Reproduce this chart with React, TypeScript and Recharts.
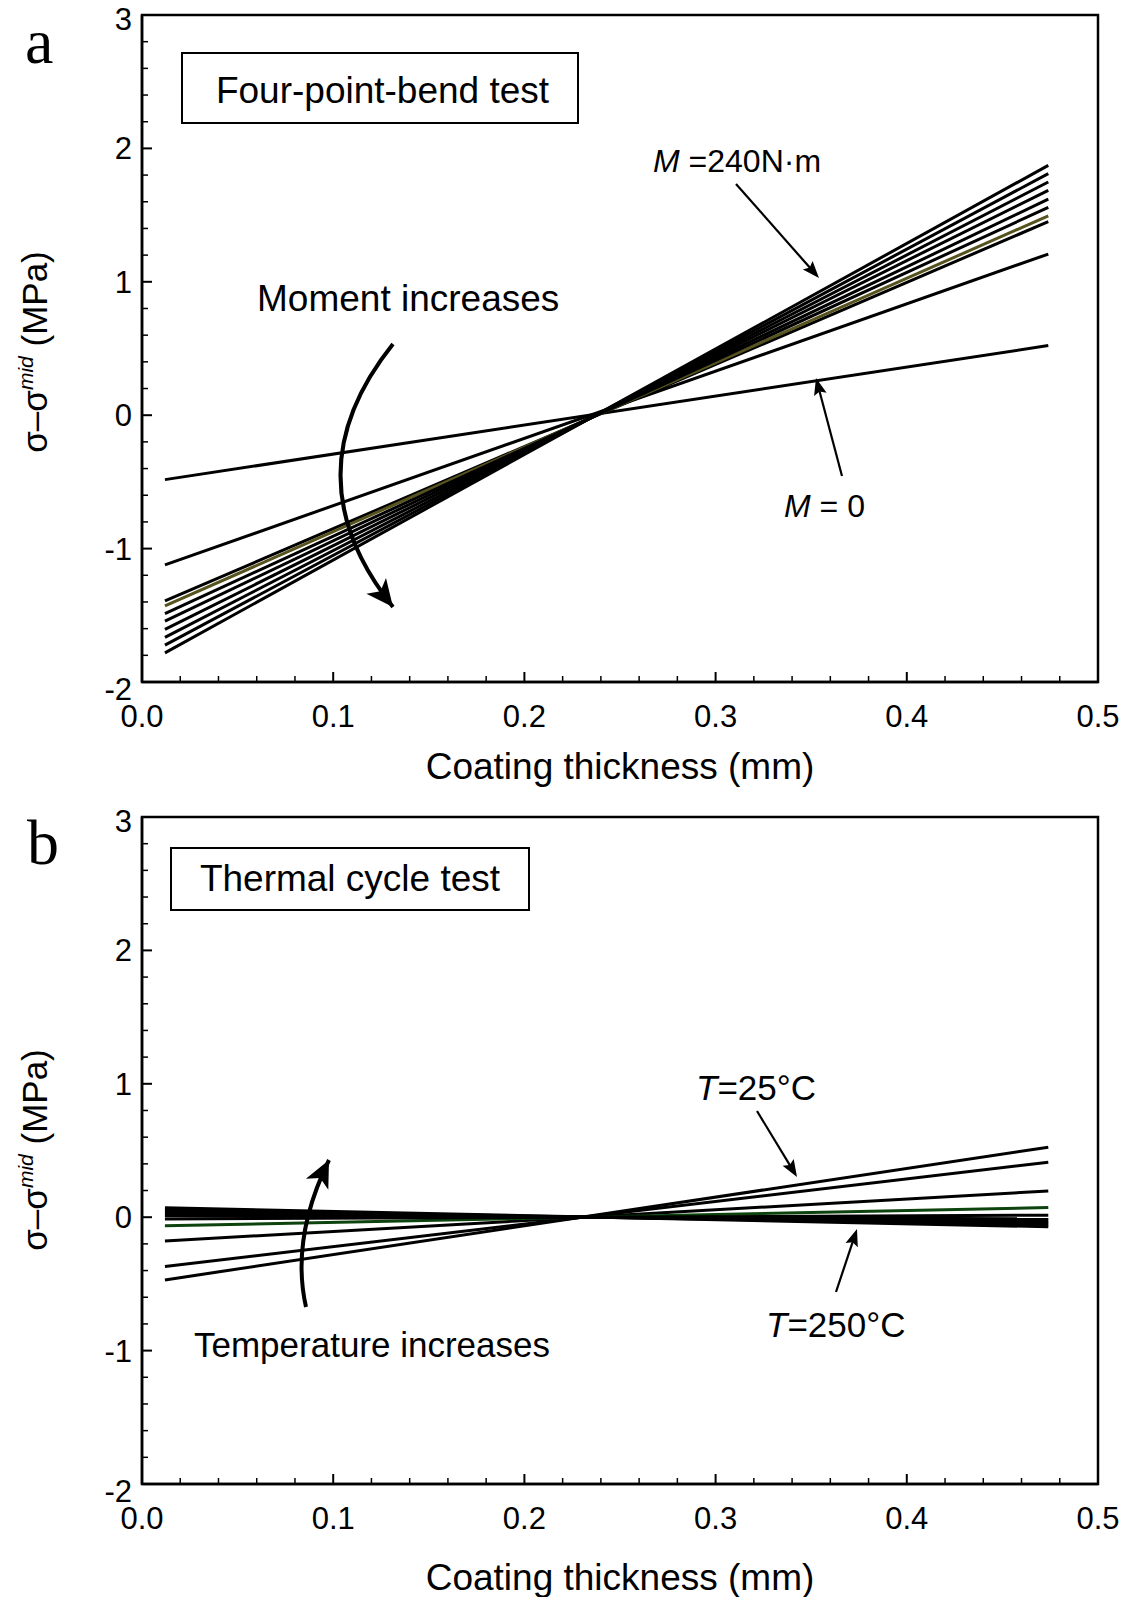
import React from 'react';
import { LineChart, Line, XAxis, YAxis, ReferenceArea } from 'recharts';

const FONT = '"Liberation Sans", Arial, Helvetica, sans-serif';
const SERIF = '"Liberation Serif", "Times New Roman", serif';

// Coating thickness (mm) at the two ends of every line
const thicknessEnds = [0.012, 0.474];

// Panel a: four-point-bend test, sigma - sigma_mid (MPa), M = 0 ... 240 N·m
const momentLeft = [-0.483, -1.122, -1.392, -1.43, -1.487, -1.544, -1.605, -1.665, -1.724, -1.782];
const momentRight = [0.522, 1.208, 1.451, 1.495, 1.558, 1.619, 1.686, 1.748, 1.811, 1.873];
const momentColors = ['#000', '#000', '#000', '#57531e', '#000', '#000', '#000', '#000', '#000', '#000'];

// Panel b: thermal cycle test, T = 25 ... 250 °C
const tempLeft = [-0.47, -0.37, -0.178, -0.065, -0.013, 0.01, 0.025, 0.04, 0.055, 0.07];
const tempRight = [0.525, 0.4125, 0.197, 0.072, 0.015, -0.012, -0.028, -0.043, -0.058, -0.072];
const tempColors = ['#000', '#000', '#000', '#0d430d', '#000', '#000', '#000', '#000', '#000', '#000'];

const xTicks = [0, 0.02, 0.04, 0.06, 0.08, 0.1, 0.12, 0.14, 0.16, 0.18, 0.2, 0.22, 0.24, 0.26, 0.28, 0.3, 0.32, 0.34, 0.36, 0.38, 0.4, 0.42, 0.44, 0.46, 0.48, 0.5];
const xTickLabels = ['0.0', '0.1', '0.2', '0.3', '0.4', '0.5'];
const yTicks = [-2, -1.8, -1.6, -1.4, -1.2, -1, -0.8, -0.6, -0.4, -0.2, 0, 0.2, 0.4, 0.6, 0.8, 1, 1.2, 1.4, 1.6, 1.8, 2, 2.2, 2.4, 2.6, 2.8, 3];
const yTickLabels = ['-2', '-1', '0', '1', '2', '3'];

function buildRows(left: number[], right: number[]) {
  return thicknessEnds.map((x, i) => {
    const row: Record<string, number> = { x };
    left.forEach((_, k) => {
      row['s' + k] = i === 0 ? left[k] : right[k];
    });
    return row;
  });
}

const momentData = buildRows(momentLeft, momentRight);
const tempData = buildRows(tempLeft, tempRight);

const TICK_FONT = 31;

const XTick = (props: any) => {
  const { x, y, payload } = props;
  const v = payload.value as number;
  const major = Math.abs(v * 10 - Math.round(v * 10)) < 1e-6;
  return (
    <g>
      <line x1={x} x2={x} y1={y} y2={y - (major ? 10 : 6)} stroke="#000" strokeWidth={major ? 2 : 1.5} />
      {major && (
        <text x={x} y={y + 45} textAnchor="middle" fontSize={TICK_FONT} fontFamily={FONT} fill="#000">
          {xTickLabels[Math.round(v * 10)]}
        </text>
      )}
    </g>
  );
};

const YTick = (props: any) => {
  const { x, y, payload } = props;
  const v = payload.value as number;
  const major = Math.abs(v - Math.round(v)) < 1e-6;
  const shift = Math.abs(v - 3) < 1e-6 ? 4 : Math.abs(v + 2) < 1e-6 ? 7 : 0;
  return (
    <g>
      <line x1={x} x2={x + (major ? 10 : 6)} y1={y} y2={y} stroke="#000" strokeWidth={major ? 2 : 1.5} />
      {major && (
        <text x={x - 10} y={y + 11 + shift} textAnchor="end" fontSize={TICK_FONT} fontFamily={FONT} fill="#000">
          {yTickLabels[Math.round(v) + 2]}
        </text>
      )}
    </g>
  );
};

function Panel(props: { data: any[]; colors: string[]; top: number; height: number; mTop: number; mBottom: number }) {
  const { data, colors, top, height, mTop, mBottom } = props;
  return (
    <div style={{ position: 'absolute', left: 0, top, width: 1134, height }}>
      <LineChart width={1134} height={height} data={data} margin={{ top: mTop, right: 36, left: 0, bottom: mBottom }}>
        <XAxis
          type="number"
          dataKey="x"
          domain={[0, 0.5]}
          ticks={xTicks}
          interval={0}
          tickSize={0}
          tickMargin={0}
          tickLine={false}
          tick={<XTick />}
          height={60}
          axisLine={{ stroke: '#000', strokeWidth: 2.5 }}
          allowDataOverflow
        />
        <YAxis
          type="number"
          domain={[-2, 3]}
          ticks={yTicks}
          interval={0}
          tickSize={0}
          tickMargin={0}
          tickLine={false}
          tick={<YTick />}
          width={142}
          axisLine={{ stroke: '#000', strokeWidth: 2.5 }}
          allowDataOverflow
        />
        <ReferenceArea x1={0} x2={0.5} y1={-2} y2={3} fill="none" fillOpacity={0} stroke="#000" strokeWidth={2.5} ifOverflow="visible" />
        {colors.map((c, k) => (
          <Line
            key={k}
            type="linear"
            dataKey={'s' + k}
            stroke={c}
            strokeWidth={3}
            dot={false}
            activeDot={false}
            isAnimationActive={false}
          />
        ))}
      </LineChart>
    </div>
  );
}

function head(tip: [number, number], dir: [number, number], len: number, halfW: number, notch: number) {
  const d = Math.hypot(dir[0], dir[1]);
  const ux = dir[0] / d;
  const uy = dir[1] / d;
  const px = -uy;
  const py = ux;
  const bx = tip[0] - ux * len;
  const by = tip[1] - uy * len;
  const pts = [
    [tip[0], tip[1]],
    [bx + px * halfW, by + py * halfW],
    [tip[0] - ux * (len - notch), tip[1] - uy * (len - notch)],
    [bx - px * halfW, by - py * halfW],
  ];
  return pts.map((p) => p[0].toFixed(1) + ',' + p[1].toFixed(1)).join(' ');
}

function StraightArrow({ from, to }: { from: [number, number]; to: [number, number] }) {
  const dir: [number, number] = [to[0] - from[0], to[1] - from[1]];
  const d = Math.hypot(dir[0], dir[1]);
  return (
    <g>
      <line x1={from[0]} y1={from[1]} x2={to[0] - (dir[0] / d) * 8} y2={to[1] - (dir[1] / d) * 8} stroke="#000" strokeWidth={2.2} />
      <polygon points={head(to, dir, 17, 6.5, 3)} fill="#000" />
    </g>
  );
}

function CurvedArrow({ p0, c, p1 }: { p0: [number, number]; c: [number, number]; p1: [number, number] }) {
  const dir: [number, number] = [p1[0] - c[0], p1[1] - c[1]];
  return (
    <g>
      <path d={`M${p0[0]},${p0[1]} Q${c[0]},${c[1]} ${p1[0]},${p1[1]}`} fill="none" stroke="#000" strokeWidth={4} />
      <polygon points={head(p1, dir, 27, 12.5, 7)} fill="#000" />
    </g>
  );
}

function YLabel({ cy }: { cy: number }) {
  return (
    <text transform={`translate(47,${cy}) rotate(-90)`} textAnchor="middle" fontSize={35} fontFamily={FONT} fill="#000">
      σ–σ
      <tspan fontSize={21} fontStyle="italic" dy={-14}>mid</tspan>
      <tspan dy={14}>{' (MPa)'}</tspan>
    </text>
  );
}

function Annotations() {
  const t = { fontFamily: FONT, fontSize: 37, fill: '#000' } as const;
  const s = { fontFamily: FONT, fontSize: 32, fill: '#000' } as const;
  const m = { fontFamily: FONT, fontSize: 35, fill: '#000' } as const;
  return (
    <svg width={1134} height={1597} style={{ position: 'absolute', left: 0, top: 0, pointerEvents: 'none' }}>
      {/* panel a */}
      <text x={25} y={63} fontFamily={SERIF} fontSize={64} fill="#000">a</text>
      <rect x={182} y={53} width={396} height={70} fill="none" stroke="#000" strokeWidth={2} />
      <text x={382.5} y={103} textAnchor="middle" {...t}>Four-point-bend test</text>
      <text x={653} y={172} {...s}>
        <tspan fontStyle="italic">M</tspan>
        {' =240N·m'}
      </text>
      <StraightArrow from={[736, 184]} to={[819, 278]} />
      <text x={257} y={311} {...t}>Moment increases</text>
      <CurvedArrow p0={[393, 344]} c={[288, 475]} p1={[393, 607]} />
      <text x={784} y={517} {...s}>
        <tspan fontStyle="italic">M</tspan>
        {' = 0'}
      </text>
      <StraightArrow from={[842, 476]} to={[816, 378]} />
      <YLabel cy={352} />
      <text x={620} y={779} textAnchor="middle" {...t}>Coating thickness (mm)</text>

      {/* panel b */}
      <text x={27} y={864} fontFamily={SERIF} fontSize={64} fill="#000">b</text>
      <rect x={171} y={848} width={358} height={62} fill="none" stroke="#000" strokeWidth={2} />
      <text x={350} y={891} textAnchor="middle" {...t}>Thermal cycle test</text>
      <text x={696} y={1100} {...m}>
        <tspan fontStyle="italic">T</tspan>
        {'=25°C'}
      </text>
      <StraightArrow from={[757, 1111]} to={[797, 1177]} />
      <text x={766} y={1337} {...m}>
        <tspan fontStyle="italic">T</tspan>
        {'=250°C'}
      </text>
      <StraightArrow from={[836, 1292]} to={[857, 1229]} />
      <text x={194} y={1357} {...m}>Temperature increases</text>
      <CurvedArrow p0={[306, 1307]} c={[290.5, 1238.5]} p1={[329, 1160]} />
      <YLabel cy={1150} />
      <text x={620} y={1590} textAnchor="middle" {...t}>Coating thickness (mm)</text>
    </svg>
  );
}

export default function App() {
  return (
    <div style={{ position: 'absolute', left: 0, top: 0, width: 1134, height: 1597, background: '#fff' }}>
      <Panel data={momentData} colors={momentColors} top={0} height={800} mTop={15} mBottom={58} />
      <Panel data={tempData} colors={tempColors} top={800} height={797} mTop={17} mBottom={53} />
      <Annotations />
    </div>
  );
}
